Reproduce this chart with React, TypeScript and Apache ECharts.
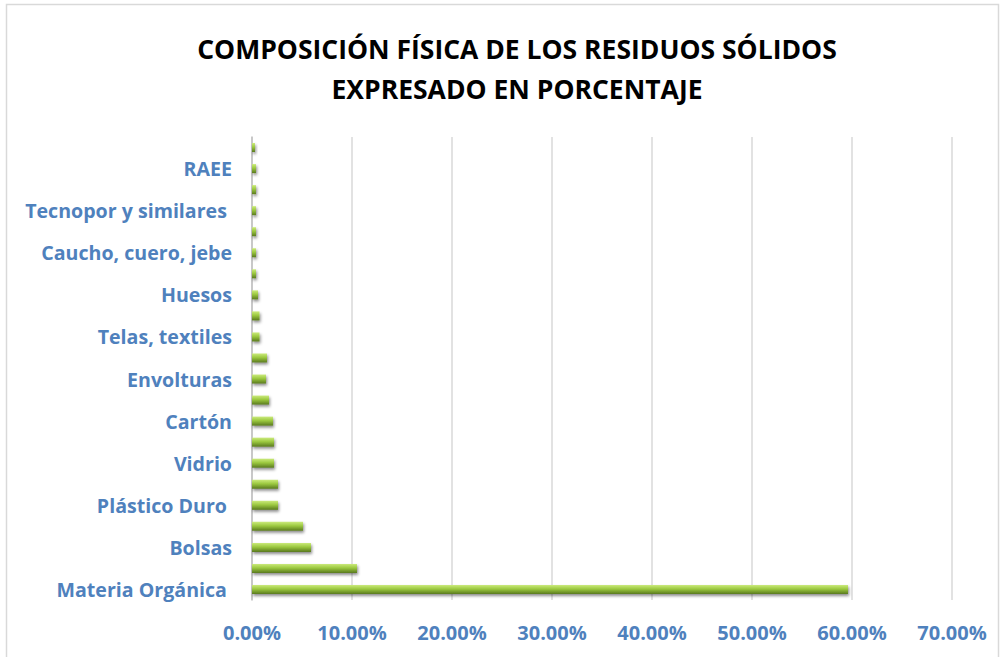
import React, { useEffect, useRef } from "react";
import * as echarts from "echarts";

const categories: string[] = [
  "Materia Orgánica ",
  "",
  "Bolsas",
  "",
  "Plástico Duro ",
  "",
  "Vidrio",
  "",
  "Cartón",
  "",
  "Envolturas",
  "",
  "Telas, textiles",
  "",
  "Huesos",
  "",
  "Caucho, cuero, jebe",
  "",
  "Tecnopor y similares ",
  "",
  "RAEE",
  "",
];

const values: number[] = [
  59.6, 10.5, 5.9, 5.1, 2.6, 2.6, 2.2, 2.2, 2.1, 1.7, 1.4, 1.5, 0.75, 0.75, 0.6, 0.4,
  0.4, 0.4, 0.4, 0.4, 0.4, 0.3,
];

const xTicks = { min: 0, max: 70, interval: 10 };

const titleLines = [
  "COMPOSICIÓN FÍSICA DE LOS RESIDUOS SÓLIDOS",
  "EXPRESADO EN PORCENTAJE",
];

export default function App() {
  const ref = useRef<HTMLDivElement>(null);
  useEffect(() => {
    if (!ref.current) return;
    const chart = echarts.init(ref.current, undefined, { renderer: "svg" });
    const blue = "#4f81bd";
    chart.setOption({
      animation: false,
      backgroundColor: "#ffffff",
      title: {
        text: titleLines.join("\n"),
        left: 512,
        top: 24,
        textAlign: "center",
        textStyle: {
          fontFamily: "Open Sans",
          fontWeight: "bold",
          fontSize: 26.5,
          lineHeight: 40,
          color: "#000000",
        },
      },
      graphic: [
        {
          type: "rect",
          shape: { x: 6.5, y: 4.5, width: 992, height: 660 },
          style: { fill: "none", stroke: "#d9d9d9", lineWidth: 1.5 },
          silent: true,
        },
      ],
      grid: { left: 252, right: 49, top: 137, bottom: 57, containLabel: false },
      xAxis: {
        type: "value",
        min: xTicks.min,
        max: xTicks.max,
        interval: xTicks.interval,
        axisLine: { show: false },
        axisTick: { show: false },
        splitLine: { lineStyle: { color: "#d9d9d9", width: 1.5 } },
        axisLabel: {
          formatter: (v: number) => v.toFixed(2) + "%",
          color: blue,
          fontWeight: "bold",
          fontSize: 20,
          fontFamily: "Open Sans",
          margin: 22,
        },
      },
      yAxis: {
        type: "category",
        data: categories,
        axisLine: { show: true, lineStyle: { color: "#bfbfbf", width: 1.5 } },
        axisTick: { show: false },
        axisLabel: {
          interval: 0,
          color: blue,
          fontWeight: "bold",
          fontSize: 19.6,
          fontFamily: "Open Sans",
          margin: 20,
        },
      },
      series: [
        {
          type: "bar",
          data: values,
          barWidth: 9,
          itemStyle: {
            color: new echarts.graphic.LinearGradient(0, 0, 0, 1, [
              { offset: 0, color: "#cbea7c" },
              { offset: 0.45, color: "#9bc83f" },
              { offset: 1, color: "#5a7a1f" },
            ]),
            shadowColor: "rgba(0,0,0,0.45)",
            shadowBlur: 3,
            shadowOffsetX: 1,
            shadowOffsetY: 2,
          },
        },
      ],
    });
    return () => chart.dispose();
  }, []);
  return (
    <div
      ref={ref}
      style={{ position: "absolute", left: 0, top: 0, width: 1001, height: 657 }}
    />
  );
}
